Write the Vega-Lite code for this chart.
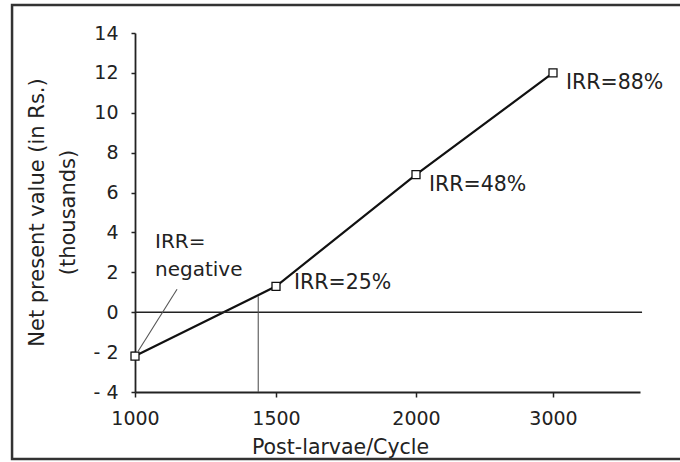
{
  "$schema": "https://vega.github.io/schema/vega-lite/v6.json",
  "width": 505,
  "height": 359,
  "autosize": {"type": "none"},
  "padding": {"left": 135, "top": 33, "right": 40, "bottom": 70},
  "background": "white",
  "config": {
    "view": {"stroke": null},
    "font": "DejaVu Sans",
    "axis": {
      "grid": false,
      "domainColor": "#222",
      "domainWidth": 1.8,
      "tickColor": "#222",
      "tickWidth": 1.5,
      "labelColor": "#222",
      "titleColor": "#222",
      "labelFont": "DejaVu Sans",
      "titleFont": "DejaVu Sans",
      "labelFontSize": 19,
      "titleFontSize": 20.5,
      "titleFontWeight": "normal",
      "labelOverlap": false,
      "labelFlush": false
    }
  },
  "data": {
    "values": [
      {"larvae": 1000, "npv": -2.2, "irr": "negative"},
      {"larvae": 1500, "npv": 1.3, "irr": "IRR=25%"},
      {"larvae": 2000, "npv": 6.9, "irr": "IRR=48%"},
      {"larvae": 3000, "npv": 12.0, "irr": "IRR=88%"}
    ]
  },
  "layer": [
    {
      "mark": {"type": "line", "color": "#111", "strokeWidth": 2.2},
      "encoding": {
        "x": {
          "field": "larvae",
          "type": "quantitative",
          "scale": {"domain": [1000, 1500, 2000, 3000, 3635], "range": [0, 141, 281, 418, 505]},
          "axis": {
            "values": [1000, 1500, 2000, 3000],
            "format": "d",
            "tickSize": 5,
            "labelPadding": 12,
            "labelFlush": false,
            "labelOverlap": false,
            "title": "Post-larvae/Cycle",
            "titleX": 205,
            "titleY": 61,
            "titleBaseline": "alphabetic",
            "titleAlign": "center"
          }
        },
        "y": {
          "field": "npv",
          "type": "quantitative",
          "scale": {"domain": [-4, 14], "nice": false, "zero": false},
          "axis": {
            "values": [-4, -2, 0, 2, 4, 6, 8, 10, 12, 14],
            "tickCount": 10,
            "tickSize": 4,
            "labelPadding": 13,
            "labelFlush": false,
            "labelOverlap": false,
            "labelExpr": "datum.value < 0 ? '- ' + abs(datum.value) : datum.label",
            "title": ["Net present value (in Rs.)", "(thousands)"],
            "titleFontSize": 21,
            "titleAngle": -90,
            "titleX": -98,
            "titleY": 179,
            "titleAlign": "center",
            "titleBaseline": "middle",
            "titleLineHeight": 31
          }
        }
      }
    },
    {
      "data": {"values": [{}]},
      "mark": {"type": "rule", "color": "#222", "strokeWidth": 1.6},
      "encoding": {
        "y": {"datum": 0, "type": "quantitative", "scale": {"domain": [-4, 14], "nice": false, "zero": false}},
        "x": {"datum": 1000, "type": "quantitative", "scale": {"domain": [1000, 1500, 2000, 3000, 3635], "range": [0, 141, 281, 418, 505]}},
        "x2": {"datum": 3650}
      }
    },
    {
      "data": {"values": [{}]},
      "mark": {"type": "rule", "color": "#555", "strokeWidth": 1.1},
      "encoding": {
        "x": {"datum": 1437, "type": "quantitative", "scale": {"domain": [1000, 1500, 2000, 3000, 3635], "range": [0, 141, 281, 418, 505]}},
        "y": {"datum": -4, "type": "quantitative", "scale": {"domain": [-4, 14], "nice": false, "zero": false}},
        "y2": {"datum": 0.8}
      }
    },
    {
      "data": {"values": [{}]},
      "mark": {"type": "rule", "color": "#555", "strokeWidth": 1.1},
      "encoding": {
        "x": {"datum": 1149, "type": "quantitative", "scale": {"domain": [1000, 1500, 2000, 3000, 3635], "range": [0, 141, 281, 418, 505]}},
        "y": {"datum": 1.15, "type": "quantitative", "scale": {"domain": [-4, 14], "nice": false, "zero": false}},
        "x2": {"datum": 1011},
        "y2": {"datum": -1.96}
      }
    },
    {
      "mark": {"type": "point", "shape": "square", "size": 64, "filled": true, "fill": "white", "stroke": "#111", "strokeWidth": 1.3, "opacity": 1},
      "encoding": {
        "x": {"field": "larvae", "type": "quantitative", "scale": {"domain": [1000, 1500, 2000, 3000, 3635], "range": [0, 141, 281, 418, 505]}},
        "y": {"field": "npv", "type": "quantitative", "scale": {"domain": [-4, 14], "nice": false, "zero": false}}
      }
    },
    {
      "transform": [{"filter": "datum.larvae == 1500"}],
      "mark": {"type": "text", "align": "left", "baseline": "middle", "dx": 18, "dy": -3, "fontSize": 20.5, "color": "#222"},
      "encoding": {
        "x": {"field": "larvae", "type": "quantitative", "scale": {"domain": [1000, 1500, 2000, 3000, 3635], "range": [0, 141, 281, 418, 505]}},
        "y": {"field": "npv", "type": "quantitative", "scale": {"domain": [-4, 14], "nice": false, "zero": false}},
        "text": {"field": "irr"}
      }
    },
    {
      "transform": [{"filter": "datum.larvae >= 2000"}],
      "mark": {"type": "text", "align": "left", "baseline": "middle", "dx": 13, "dy": 10, "fontSize": 20.5, "color": "#222"},
      "encoding": {
        "x": {"field": "larvae", "type": "quantitative", "scale": {"domain": [1000, 1500, 2000, 3000, 3635], "range": [0, 141, 281, 418, 505]}},
        "y": {"field": "npv", "type": "quantitative", "scale": {"domain": [-4, 14], "nice": false, "zero": false}},
        "text": {"field": "irr"}
      }
    },
    {
      "data": {"values": [{}]},
      "mark": {"type": "text", "align": "left", "baseline": "alphabetic", "fontSize": 20, "lineHeight": 28, "color": "#222"},
      "encoding": {
        "x": {"datum": 1071, "type": "quantitative", "scale": {"domain": [1000, 1500, 2000, 3000, 3635], "range": [0, 141, 281, 418, 505]}},
        "y": {"datum": 3.21, "type": "quantitative", "scale": {"domain": [-4, 14], "nice": false, "zero": false}},
        "text": {"value": ["IRR=", "negative"]}
      }
    },
    {
      "data": {"values": [{}]},
      "mark": {"type": "rect", "fill": null, "fillOpacity": 0, "stroke": "#333", "strokeWidth": 2.5},
      "encoding": {
        "x": {"datum": 564, "type": "quantitative", "scale": {"domain": [1000, 1500, 2000, 3000, 3635], "range": [0, 141, 281, 418, 505]}},
        "x2": {"datum": 4100},
        "y": {"datum": 15.4, "type": "quantitative", "scale": {"domain": [-4, 14], "nice": false, "zero": false}},
        "y2": {"datum": -7.36}
      }
    }
  ]
}
